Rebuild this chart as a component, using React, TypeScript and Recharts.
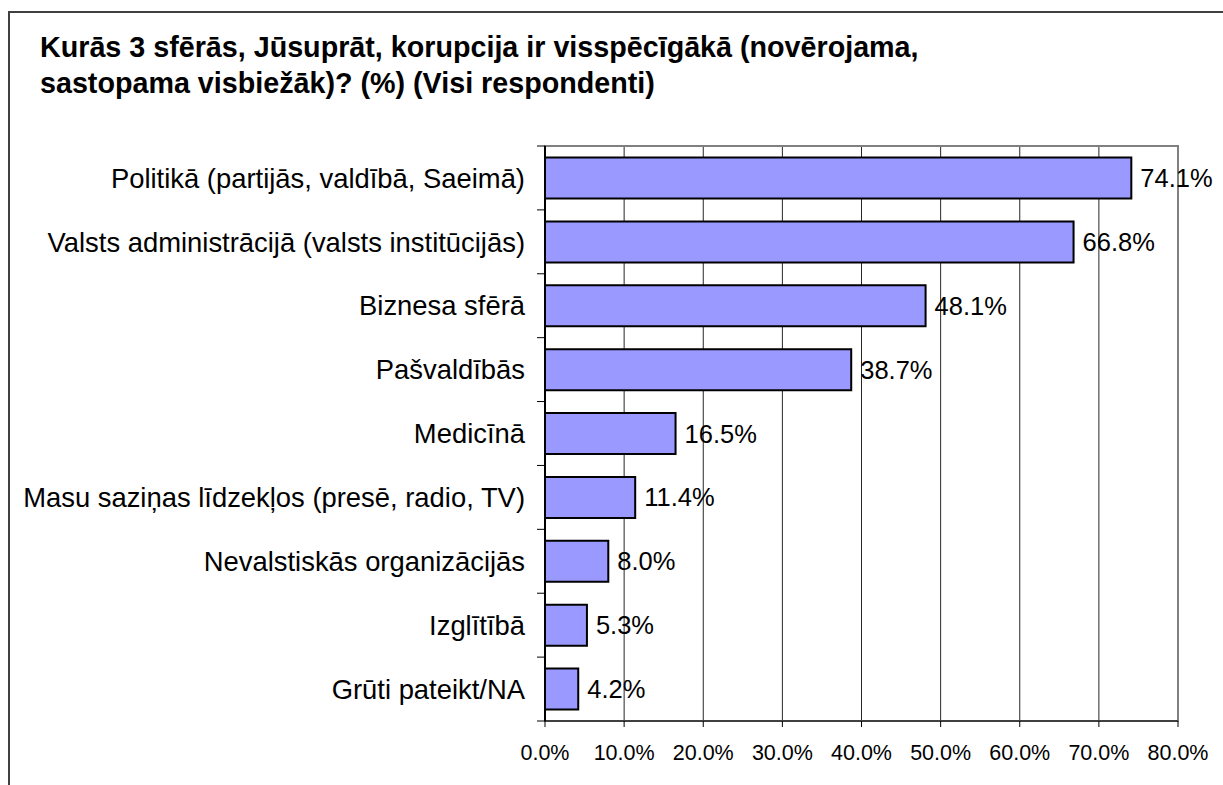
import React from 'react';
import { BarChart, Bar, XAxis, YAxis, CartesianGrid, LabelList, ReferenceArea } from 'recharts';

const categories: string[] = [
  'Politikā (partijās, valdībā, Saeimā)',
  'Valsts administrācijā (valsts institūcijās)',
  'Biznesa sfērā',
  'Pašvaldībās',
  'Medicīnā',
  'Masu saziņas līdzekļos (presē, radio, TV)',
  'Nevalstiskās organizācijās',
  'Izglītībā',
  'Grūti pateikt/NA',
];

const values: number[] = [74.1, 66.8, 48.1, 38.7, 16.5, 11.4, 8.0, 5.3, 4.2];

const xTicks: number[] = [0, 10, 20, 30, 40, 50, 60, 70, 80];

const titleLines: string[] = [
  'Kurās 3 sfērās, Jūsuprāt, korupcija ir visspēcīgākā (novērojama,',
  'sastopama visbiežāk)? (%) (Visi respondenti)',
];

const data = categories.map((name, i) => ({ name, value: values[i] }));

const FONT = '"Liberation Sans", Arial, Helvetica, sans-serif';
const W = 1223;
const H = 785;
const MARGIN = { top: 146, right: 45, bottom: 24, left: 0 };
const Y_WIDTH = 545;
const X_HEIGHT = 40;
const TICK_SIZE = 8;
const TICK_MARGIN = 12;

const pct = (v: number) => `${Number(v).toFixed(1)}%`;

const CategoryTick = (props: any) => {
  const { x, y, payload, index } = props;
  const plotH = H - MARGIN.top - MARGIN.bottom - X_HEIGHT;
  const half = payload && typeof payload.offset === 'number' && payload.offset > 0
    ? payload.offset
    : plotH / categories.length / 2;
  const axisX = x + TICK_SIZE + TICK_MARGIN;
  return (
    <g>
      <line x1={axisX - TICK_SIZE} x2={axisX} y1={y - half} y2={y - half} stroke="#000" strokeWidth={1} />
      {index === categories.length - 1 && (
        <line x1={axisX - TICK_SIZE} x2={axisX} y1={y + half} y2={y + half} stroke="#000" strokeWidth={1} />
      )}
      <text x={x} y={y} dy="0.355em" textAnchor="end" fontSize={27.4} fontFamily={FONT} fill="#000">
        {payload.value}
      </text>
    </g>
  );
};

export default function App() {
  return (
    <div style={{ position: 'fixed', left: 0, top: 0, width: W, height: H, overflow: 'hidden', background: '#fff' }}>
      <div
        style={{
          position: 'absolute',
          left: 8,
          top: 11,
          width: 1400,
          height: 1000,
          border: '2px solid #404040',
          boxSizing: 'border-box',
        }}
      />
      <div
        style={{
          position: 'absolute',
          left: 40,
          top: 28.5,
          fontFamily: FONT,
          fontWeight: 'bold',
          fontSize: 28.7,
          lineHeight: '36px',
          color: '#000',
          whiteSpace: 'nowrap',
        }}
      >
        {titleLines.map((t, i) => (
          <div key={i}>{t}</div>
        ))}
      </div>
      <div style={{ position: 'absolute', left: 0, top: 0 }}>
        <BarChart
          width={W}
          height={H}
          data={data}
          layout="vertical"
          margin={MARGIN}
          barCategoryGap="18%"
        >
          <CartesianGrid horizontal={false} vertical={true} stroke="#000" strokeWidth={1} strokeOpacity={0.85} />
          <ReferenceArea x1={0} x2={80} stroke="#808080" strokeWidth={2} fill="none" fillOpacity={0} ifOverflow="extendDomain" />
          <XAxis
            type="number"
            domain={[0, 80]}
            ticks={xTicks}
            tickFormatter={pct}
            height={X_HEIGHT}
            tickSize={6}
            tickMargin={18}
            interval={0}
            axisLine={{ stroke: '#404040', strokeWidth: 2 }}
            tickLine={{ stroke: '#000', strokeWidth: 1 }}
            tick={{ fontSize: 21.5, fontFamily: FONT, fill: '#000' }}
          />
          <YAxis
            type="category"
            dataKey="name"
            width={Y_WIDTH}
            tickSize={TICK_SIZE}
            tickMargin={TICK_MARGIN}
            interval={0}
            tickLine={false}
            axisLine={{ stroke: '#000', strokeWidth: 2 }}
            tick={<CategoryTick />}
          />
          <Bar dataKey="value" fill="#9999FF" stroke="#000" strokeWidth={2} isAnimationActive={false}>
            <LabelList
              dataKey="value"
              position="right"
              offset={9}
              formatter={(v: any) => pct(v)}
              style={{ fontSize: 25.5, fontFamily: FONT, fill: '#000' }}
            />
          </Bar>
        </BarChart>
      </div>
    </div>
  );
}
